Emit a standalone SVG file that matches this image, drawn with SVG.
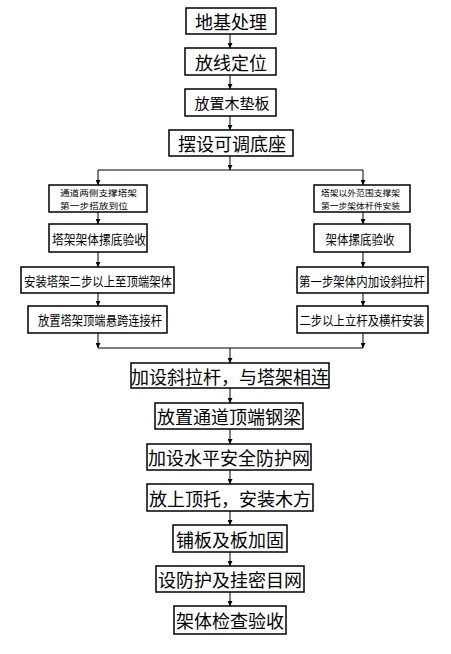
<svg xmlns="http://www.w3.org/2000/svg" width="451" height="654" viewBox="0 0 451 654">
<style>
rect{fill:#fff;stroke:#000;stroke-width:1.5}
text{font-family:"Noto Sans CJK SC","Noto Sans",sans-serif;fill:#000;dominant-baseline:central}
.m{font-size:18px;text-anchor:middle}
.s{font-size:13px;text-anchor:middle}
.t{font-size:8.5px}
#conn line{stroke:#000;stroke-width:1}
</style>
<defs>
<marker id="ah" viewBox="0 0 8 8" refX="8" refY="4" markerWidth="5" markerHeight="5" orient="auto" markerUnits="userSpaceOnUse"><path d="M0,0L8,4L0,8z" fill="#000"/></marker>
</defs>
<g id="conn">
<line x1="230" y1="34" x2="230" y2="48" marker-end="url(#ah)"/>
<line x1="230" y1="75" x2="230" y2="89" marker-end="url(#ah)"/>
<line x1="230" y1="116" x2="230" y2="130" marker-end="url(#ah)"/>
<line x1="230" y1="156" x2="230" y2="170" marker-end="url(#ah)"/>
<line x1="98" y1="170" x2="363" y2="170"/>
<line x1="98" y1="170" x2="98" y2="185" marker-end="url(#ah)"/>
<line x1="363" y1="170" x2="363" y2="185" marker-end="url(#ah)"/>
<line x1="98" y1="212" x2="98" y2="224" marker-end="url(#ah)"/>
<line x1="363" y1="212" x2="363" y2="224" marker-end="url(#ah)"/>
<line x1="98" y1="252" x2="98" y2="267" marker-end="url(#ah)"/>
<line x1="363" y1="252" x2="363" y2="267" marker-end="url(#ah)"/>
<line x1="98" y1="293" x2="98" y2="306" marker-end="url(#ah)"/>
<line x1="363" y1="293" x2="363" y2="306" marker-end="url(#ah)"/>
<line x1="98" y1="333" x2="98" y2="348" marker-end="url(#ah)"/>
<line x1="363" y1="333" x2="363" y2="348" marker-end="url(#ah)"/>
<line x1="98" y1="348" x2="363" y2="348"/>
<line x1="230" y1="348" x2="230" y2="363" marker-end="url(#ah)"/>
<line x1="230" y1="388" x2="230" y2="403" marker-end="url(#ah)"/>
<line x1="230" y1="429" x2="230" y2="444" marker-end="url(#ah)"/>
<line x1="230" y1="470" x2="230" y2="484" marker-end="url(#ah)"/>
<line x1="230" y1="511" x2="230" y2="525" marker-end="url(#ah)"/>
<line x1="230" y1="552" x2="230" y2="566" marker-end="url(#ah)"/>
<line x1="230" y1="592" x2="230" y2="606" marker-end="url(#ah)"/>
</g>
<g id="n1"><rect x="186" y="8" width="90" height="26"/><text class="m" x="231" y="21">地基处理</text></g>
<g id="n2"><rect x="185" y="48" width="91" height="27"/><text class="m" x="231" y="61.5">放线定位</text></g>
<g id="n3"><rect x="185" y="89" width="91" height="27"/><text class="m" x="232" y="102.5" style="font-size:15px">放置木垫板</text></g>
<g id="n4"><rect x="169" y="130" width="124" height="26"/><text class="m" x="232" y="143">摆设可调底座</text></g>
<g id="l1"><rect x="49" y="185" width="98" height="27"/><text class="t" x="60" y="192" textLength="77" lengthAdjust="spacingAndGlyphs">通道两侧支撑塔架</text><text class="t" x="60" y="205" textLength="68" lengthAdjust="spacingAndGlyphs">第一步搭放到位</text></g>
<g id="r1"><rect x="314" y="185" width="96" height="27"/><text class="t" x="321" y="192" textLength="79" lengthAdjust="spacingAndGlyphs">塔架以外范围支撑架</text><text class="t" x="321" y="205" textLength="79" lengthAdjust="spacingAndGlyphs">第一步架体杆件安装</text></g>
<g id="l2"><rect x="49" y="224" width="98" height="28"/><text class="s" x="99" y="238" textLength="94" lengthAdjust="spacingAndGlyphs">塔架架体摞底验收</text></g>
<g id="r2"><rect x="314" y="224" width="96" height="28"/><text class="s" x="360" y="238" textLength="69" lengthAdjust="spacingAndGlyphs">架体摞底验收</text></g>
<g id="l3"><rect x="21" y="267" width="153" height="26"/><text class="s" x="98" y="280" textLength="148" lengthAdjust="spacingAndGlyphs">安装塔架二步以上至顶端架体</text></g>
<g id="r3"><rect x="297" y="267" width="131" height="26"/><text class="s" x="362" y="280" textLength="126" lengthAdjust="spacingAndGlyphs">第一步架体内加设斜拉杆</text></g>
<g id="l4"><rect x="28" y="306" width="139" height="27"/><text class="s" x="100" y="319.5" textLength="124" lengthAdjust="spacingAndGlyphs">放置塔架顶端悬跨连接杆</text></g>
<g id="r4"><rect x="297" y="306" width="131" height="27"/><text class="s" x="362" y="319.5" textLength="125" lengthAdjust="spacingAndGlyphs">二步以上立杆及横杆安装</text></g>
<g id="m1"><rect x="131" y="363" width="198" height="25"/><text class="m" x="230" y="375.5">加设斜拉杆，与塔架相连</text></g>
<g id="m2"><rect x="155" y="403" width="148" height="26"/><text class="m" x="229" y="416">放置通道顶端钢梁</text></g>
<g id="m3"><rect x="147" y="444" width="164" height="26"/><text class="m" x="229" y="457">加设水平安全防护网</text></g>
<g id="m4"><rect x="147" y="484" width="166" height="27"/><text class="m" x="230" y="497.5">放上顶托，安装木方</text></g>
<g id="m5"><rect x="173" y="525" width="114" height="27"/><text class="m" x="230" y="538.5">铺板及板加固</text></g>
<g id="m6"><rect x="156" y="566" width="148" height="26"/><text class="m" x="230" y="579">设防护及挂密目网</text></g>
<g id="m7"><rect x="174" y="606" width="112" height="28"/><text class="m" x="230" y="620">架体检查验收</text></g>
</svg>
